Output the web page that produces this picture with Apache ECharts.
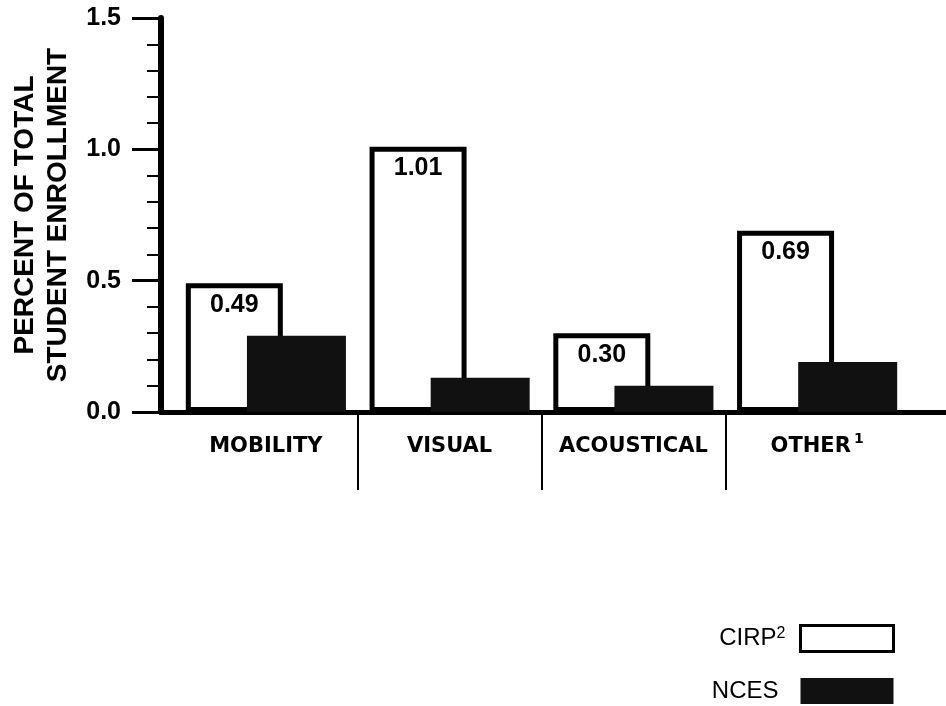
<!DOCTYPE html>
<html>
<head>
<meta charset="utf-8">
<script src="https://cdn.jsdelivr.net/npm/echarts@6/dist/echarts.min.js"></script>
<style>html,body{margin:0;padding:0;background:#fff}#c{width:946px;height:706px}</style>
</head>
<body>
<div id="c"></div>
<script>
var categories = ['MOBILITY', 'VISUAL', 'ACOUSTICAL', 'OTHER'];
var cirpValues = [0.49, 1.01, 0.30, 0.69];
var ncesValues = [0.29, 0.13, 0.10, 0.19];
var yTickLabels = ['0.0', '0.5', '1.0', '1.5'];
var yAxisTitle = 'PERCENT OF TOTAL\nSTUDENT ENROLLMENT';

var chart = echarts.init(document.getElementById('c'), null, {renderer: 'canvas'});
var TOP = 18, BOTTOM = 706 - 412;
var option = {
  backgroundColor: '#fff',
  animation: false,
  grid: [
    {left: 174, right: 37, top: TOP, bottom: BOTTOM},
    {left: 161, right: 0, top: TOP, bottom: BOTTOM},
    {left: 174, right: 37, top: 412, height: 78}
  ],
  xAxis: [
    {gridIndex: 0, type: 'category', data: categories,
     axisLine: {show: false}, axisTick: {show: false},
     axisLabel: {interval: 0, margin: 20, color: '#000', fontFamily: 'DejaVu Sans', fontWeight: 'bold', fontSize: 21, lineHeight: 30,
       formatter: function (v) { return v === 'OTHER' ? v + '{sup|1}' : v; },
       rich: {sup: {fontFamily: 'DejaVu Sans', fontWeight: 'bold', fontSize: 14, lineHeight: 16, verticalAlign: 'top', color: '#000', padding: [0, 0, 0, 3]}}}},
    {gridIndex: 1, type: 'value', min: 0, max: 1,
     axisLine: {show: true, lineStyle: {color: '#000', width: 5}},
     axisTick: {show: false}, axisLabel: {show: false}, splitLine: {show: false}},
    {gridIndex: 2, type: 'category', data: categories,
     axisLine: {show: false}, axisTick: {show: false}, axisLabel: {show: false},
     splitLine: {show: true, interval: 0, showMinLine: false, showMaxLine: false, lineStyle: {color: '#000', width: 2}}}
  ],
  yAxis: [
    {gridIndex: 0, type: 'value', min: 0, max: 1.5, show: false},
    {gridIndex: 1, type: 'value', min: 0, max: 1.5, interval: 0.5,
     axisLine: {show: true, lineStyle: {color: '#000', width: 6}},
     axisTick: {show: true, length: 29, lineStyle: {color: '#000', width: 3}},
     minorTick: {show: true, splitNumber: 5, length: 14, lineStyle: {color: '#000', width: 2}},
     splitLine: {show: false},
     axisLabel: {margin: 40, color: '#000', fontFamily: 'Liberation Sans', fontWeight: 'bold', fontSize: 25,
       formatter: function (v) { return yTickLabels[Math.round(v / 0.5)]; }},
     name: yAxisTitle, nameLocation: 'middle', nameGap: 86,
     nameTextStyle: {color: '#000', fontFamily: 'Liberation Sans', fontWeight: 'bold', fontSize: 28, lineHeight: 33}},
    {gridIndex: 2, type: 'value', show: false}
  ],
  legend: {
    orient: 'vertical', right: 51, top: 624, height: 82, align: 'right', icon: 'rect',
    padding: 0,
    itemWidth: 93, itemHeight: 26, itemGap: 25,
    data: [
      {name: 'CIRP', itemStyle: {color: '#fff', borderColor: '#000', borderWidth: 3}},
      {name: 'NCES', itemStyle: {color: '#111', borderWidth: 0}}
    ],
    formatter: function (n) { return n === 'CIRP' ? 'CIRP{sup|2}{padA|}' : n + '{padB|}'; },
    textStyle: {color: '#000', fontFamily: 'Liberation Sans', fontSize: 24, lineHeight: 26,
      rich: {sup: {fontFamily: 'Liberation Sans', fontSize: 16, lineHeight: 16, verticalAlign: 'top', color: '#000'},
             padA: {width: 10}, padB: {width: 17}}}
  },
  series: [
    {name: 'CIRP', type: 'bar', xAxisIndex: 0, yAxisIndex: 0, data: cirpValues,
     barWidth: 97, barGap: '-37%',
     itemStyle: {color: '#fff', borderColor: '#000', borderWidth: 5},
     label: {show: true, position: 'insideTop', distance: 9, color: '#000',
       fontFamily: 'Liberation Sans', fontWeight: 'bold', fontSize: 25,
       formatter: function (p) { return p.value.toFixed(2); }}},
    {name: 'NCES', type: 'bar', xAxisIndex: 0, yAxisIndex: 0, data: ncesValues,
     barWidth: 99,
     itemStyle: {color: '#111'}}
  ]
};
chart.setOption(option);
</script>
</body>
</html>
